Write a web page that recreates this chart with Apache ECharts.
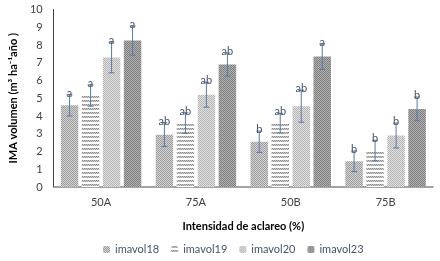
<!DOCTYPE html>
<html>
<head>
<meta charset="utf-8">
<script src="https://cdn.jsdelivr.net/npm/echarts@6/dist/echarts.min.js"></script>
<style>
  html, body { margin: 0; padding: 0; background: #fff; }
  #chart { width: 440px; height: 261px; }
</style>
</head>
<body>
<div id="chart"></div>
<script>
var categories = ['50A', '75A', '50B', '75B'];
var seriesNames = ['imavol18', 'imavol19', 'imavol20', 'imavol23'];

var imavol18 = [4.6, 2.95, 2.55, 1.45];
var imavol19 = [5.15, 3.6, 3.6, 2.05];
var imavol20 = [7.3, 5.2, 4.55, 2.9];
var imavol23 = [8.25, 6.9, 7.35, 4.4];

// desviaciones (barras de error)
var err18 = [0.6, 0.67, 0.6, 0.58];
var err19 = [0.6, 0.58, 0.55, 0.58];
var err20 = [0.87, 0.7, 0.9, 0.7];
var err23 = [0.82, 0.65, 0.72, 0.67];

// letras de significancia
var let18 = ['a', 'ab', 'b', 'b'];
var let19 = ['a', 'ab', 'ab', 'b'];
var let20 = ['a', 'ab', 'ab', 'b'];
var let23 = ['a', 'ab', 'a', 'b'];

var yTicks = [0, 10, 1];

var values = [imavol18, imavol19, imavol20, imavol23];
var errors = [err18, err19, err20, err23];
var letters = [let18, let19, let20, let23];

// tramas tipo Excel
function makePattern(type) {
    var c = document.createElement('canvas');
    var ctx = c.getContext('2d');
    var px = function (x, y, col) { ctx.fillStyle = col; ctx.fillRect(x, y, 1, 1); };
    if (type === 0) {
        c.width = 2; c.height = 2;
        px(0, 0, '#9c9c9c'); px(1, 1, '#9c9c9c');
        px(1, 0, '#d4d4d4'); px(0, 1, '#d4d4d4');
    } else if (type === 1) {
        c.width = 2; c.height = 4;
        ctx.fillStyle = '#ffffff'; ctx.fillRect(0, 0, 2, 4);
        px(0, 0, '#8c8c8c'); px(1, 0, '#c8c8c8');
        px(0, 1, '#d0d0d0'); px(1, 1, '#9a9a9a');
    } else if (type === 2) {
        c.width = 2; c.height = 2;
        px(0, 0, '#b4b4b4'); px(1, 1, '#b4b4b4');
        px(1, 0, '#e2e2e2'); px(0, 1, '#e2e2e2');
    } else {
        c.width = 2; c.height = 2;
        px(0, 0, '#7e7e7e'); px(1, 1, '#7e7e7e');
        px(1, 0, '#b2b2b2'); px(0, 1, '#b2b2b2');
    }
    return { image: c, repeat: 'repeat' };
}

var myChart = echarts.init(document.getElementById('chart'));

var barW = 17.5;
var gapW = 3.5;

var series = [];
seriesNames.forEach(function (name, i) {
    series.push({
        name: name,
        type: 'bar',
        data: values[i],
        barWidth: barW,
        barGap: '20%',
        itemStyle: { color: makePattern(i) },
        z: 2
    });
});
seriesNames.forEach(function (name, i) {
    series.push({
        name: 'err' + i,
        type: 'custom',
        data: values[i].map(function (v, k) { return [k, v, errors[i][k]]; }),
        z: 5,
        renderItem: function (params, api) {
            var k = api.value(0), v = api.value(1), e = api.value(2);
            var groupW = 4 * barW + 3 * gapW;
            var off = -groupW / 2 + barW / 2 + i * (barW + gapW);
            var top = api.coord([k, v + e]);
            var bot = api.coord([k, v - e]);
            var x = top[0] + off;
            var col = '#5a7aa6';
            return {
                type: 'group',
                children: [
                    { type: 'line', shape: { x1: x, y1: top[1], x2: x, y2: bot[1] }, style: { stroke: col, lineWidth: 1 } },
                    { type: 'line', shape: { x1: x - 3, y1: top[1], x2: x + 3, y2: top[1] }, style: { stroke: col, lineWidth: 1 } },
                    { type: 'line', shape: { x1: x - 3, y1: bot[1], x2: x + 3, y2: bot[1] }, style: { stroke: col, lineWidth: 1 } },
                    { type: 'text', style: { text: letters[i][k], x: x, y: top[1] + 4, align: 'center', verticalAlign: 'bottom',
                        fill: '#44546a', font: '11px Lato' } }
                ]
            };
        }
    });
});

var option = {
    animation: false,
    textStyle: { fontFamily: 'Lato' },
    grid: { left: 44, right: 7, top: 9.5, bottom: 74 },
    legend: {
        data: seriesNames,
        left: 98,
        bottom: 1,
        itemWidth: 7,
        itemHeight: 7,
        itemGap: 12,
        textStyle: { color: '#44546a', fontSize: 11, fontFamily: 'Lato' }
    },
    xAxis: {
        type: 'category',
        data: categories,
        name: 'Intensidad de aclareo (%)',
        nameLocation: 'middle',
        nameGap: 34,
        nameTextStyle: { fontWeight: 'bold', fontSize: 11, color: '#000' },
        axisTick: { show: false },
        axisLine: { lineStyle: { color: '#868686', width: 1.5 } },
        axisLabel: { color: '#404040', fontSize: 11, margin: 10 }
    },
    yAxis: {
        type: 'value',
        min: yTicks[0],
        max: yTicks[1],
        interval: yTicks[2],
        name: 'IMA volumen (m³ ha⁻¹año )',
        nameLocation: 'middle',
        nameGap: 28,
        nameTextStyle: { fontWeight: 'bold', fontSize: 11, color: '#000' },
        splitLine: { show: false },
        axisTick: { show: false },
        axisLine: { show: true, lineStyle: { color: '#404040', width: 1 } },
        axisLabel: { color: '#404040', fontSize: 11, margin: 11 }
    },
    series: series
};

myChart.setOption(option);
</script>
</body>
</html>
